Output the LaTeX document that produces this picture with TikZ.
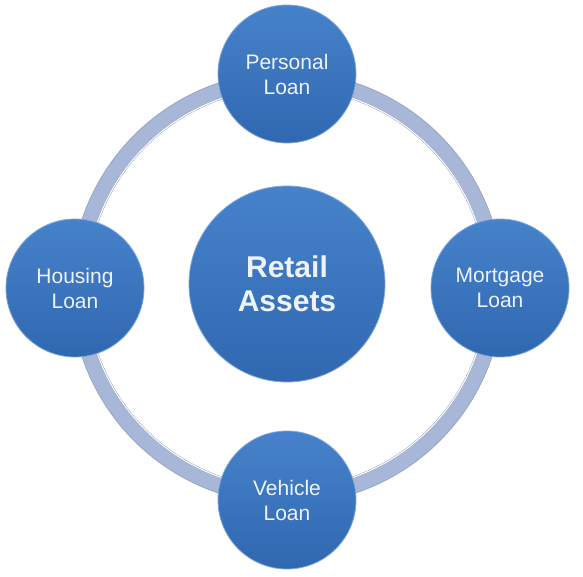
\documentclass[tikz,border=0pt]{standalone}
\usepackage{fontspec}
\setmainfont{Liberation Sans}
\definecolor{ringmain}{HTML}{A8B7D7}
\definecolor{ringedge}{HTML}{97A7C9}
\definecolor{bluetop}{HTML}{4682CB}
\definecolor{bluebot}{HTML}{3068B0}
\definecolor{rim}{HTML}{7FA6DA}
\definecolor{txt}{HTML}{EEF3FA}
\begin{document}
\begin{tikzpicture}[x=1pt,y=1pt,
  bubble/.style={circle, draw=rim, line width=0.8pt, top color=bluetop, bottom color=bluebot,
    text=txt, align=center, minimum size=#1, inner sep=0pt},
  small/.style={bubble=138pt, font=\fontsize{21}{25}\selectfont},
  big/.style={bubble=196pt, font=\fontsize{30}{34}\bfseries\selectfont}]
\useasboundingbox[fill=white] (0,0) rectangle (583,-576);
\coordinate (o) at (287,-288);
\draw[ringedge, line width=17pt] (o) circle[radius=208];
\draw[ringmain, line width=14pt] (o) circle[radius=208.5];
\draw[white, line width=1pt] (o) circle[radius=200.5];
\node[big] (center) at (287,-284) {Retail\\Assets};
\node[small] (personal) at (287,-74) {Personal\\Loan};
\node[small] (mortgage) at (500,-288) {Mortgage\\Loan};
\node[small] (vehicle) at (287,-500) {Vehicle\\Loan};
\node[small] (housing) at (75,-288) {Housing\\Loan};
\end{tikzpicture}
\end{document}
